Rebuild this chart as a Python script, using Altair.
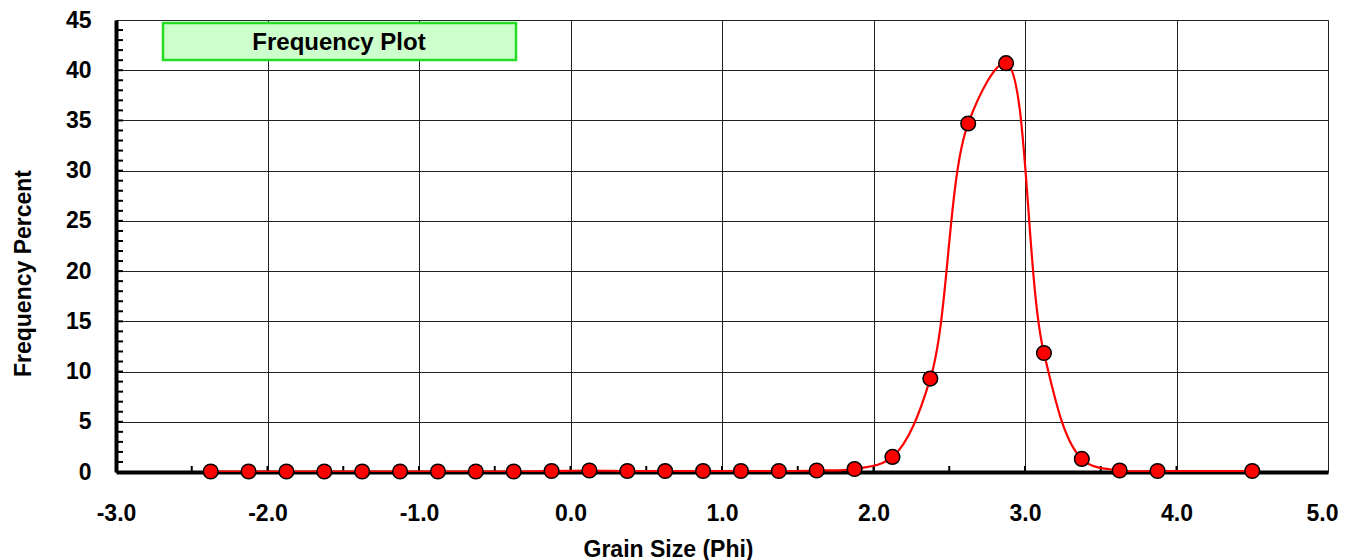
import altair as alt
import pandas as pd

# Data
phi = [-2.375, -2.125, -1.875, -1.625, -1.375, -1.125, -0.875, -0.625, -0.375, -0.125,
       0.125, 0.375, 0.625, 0.875, 1.125, 1.375, 1.625, 1.875, 2.125, 2.375,
       2.625, 2.875, 3.125, 3.375, 3.625, 3.875, 4.5]
freq = [0.05, 0.05, 0.05, 0.05, 0.05, 0.05, 0.05, 0.05, 0.05, 0.1,
        0.15, 0.1, 0.1, 0.1, 0.1, 0.1, 0.15, 0.3, 1.5, 9.3,
        34.7, 40.7, 11.85, 1.3, 0.15, 0.1, 0.1]
x_major = [-3.0, -2.0, -1.0, 0.0, 1.0, 2.0, 3.0, 4.0, 5.0]
x_minor = [-2.5, -2.0, -1.5, -1.0, -0.5, 0.0, 0.5, 1.0, 1.5, 2.0, 2.5, 3.0, 3.5, 4.0, 4.5]
y_major = [0, 5, 10, 15, 20, 25, 30, 35, 40, 45]
y_minor = list(range(1, 45))
title_text = "Frequency Plot"

df = pd.DataFrame({"phi": phi, "freq": freq})
FONT = "Liberation Sans"
FS = 23
W, H = 1212, 452

xscale = alt.Scale(domain=[-3, 5], nice=False, zero=False)
yscale = alt.Scale(domain=[0, 45], nice=False)

xaxis = alt.Axis(values=x_major,
                 labelExpr="(datum.value < 0 ? '-' : '') + format(abs(datum.value), '.1f')",
                 labelOffset={"condition": {"test": "datum.value >= 5", "value": -6}, "value": 0},
                 grid=True, gridColor="#222", gridWidth=1,
                 ticks=False, domain=True, domainColor="black", domainWidth=4,
                 labelFont=FONT, labelFontSize=FS, labelFontWeight="bold", labelColor="black",
                 labelPadding=30, title="Grain Size (Phi)", titleFont=FONT, titleFontSize=FS,
                 titleFontWeight="bold", titleColor="black", titleX=552, titleY=77,
                 titleAnchor="middle", titleBaseline="middle", labelFlush=False)
yaxis = alt.Axis(values=y_major, grid=True, gridColor="#222", gridWidth=1,
                 ticks=False, domain=True, domainColor="black", domainWidth=4,
                 labelFont=FONT, labelFontSize=FS, labelFontWeight="bold", labelColor="black",
                 labelPadding=25, title="Frequency Percent", titleFont=FONT, titleFontSize=FS,
                 titleFontWeight="bold", titleColor="black", titleX=-93, titleY=253,
                 titleAnchor="middle", titleBaseline="middle", titleAngle=-90, labelFlush=False)

base = alt.Chart(df)

line = base.mark_line(color="red", strokeWidth=2.2, interpolate="catmull-rom", clip=True).encode(
    x=alt.X("phi:Q", scale=xscale, axis=xaxis),
    y=alt.Y("freq:Q", scale=yscale, axis=yaxis),
)
pts = base.mark_point(shape="circle", filled=True, fill="#FF0000", stroke="black",
                      strokeWidth=1.5, size=215, opacity=1).encode(
    x=alt.X("phi:Q", scale=xscale),
    y=alt.Y("freq:Q", scale=yscale),
)

xminor = alt.Chart(pd.DataFrame({"v": x_minor})).mark_rule(color="black", strokeWidth=2).encode(
    x=alt.X("v:Q", scale=xscale), y=alt.value(H - 1), y2=alt.value(H - 6))
yminor = alt.Chart(pd.DataFrame({"v": y_minor})).mark_rule(color="black", strokeWidth=2).encode(
    y=alt.Y("v:Q", scale=yscale), x=alt.value(1), x2=alt.value(7))

box = alt.Chart(pd.DataFrame({"t": [title_text]})).mark_rect(
    fill="#CCFFCC", stroke="#22DD22", strokeWidth=2.5).encode(
    x=alt.value(47), x2=alt.value(400), y=alt.value(3), y2=alt.value(40))
label = alt.Chart(pd.DataFrame({"t": [title_text]})).mark_text(
    font=FONT, fontSize=24, fontWeight="bold", color="black", align="center", baseline="middle").encode(
    text="t:N", x=alt.value(223), y=alt.value(23))

chart = alt.layer(box, xminor, yminor, line, pts, label).properties(
    width=W, height=H,
    padding={"left": 108, "top": 12, "right": 10, "bottom": 88},
    autosize=alt.AutoSizeParams(type="none"),
).configure_view(stroke="black", strokeWidth=4).configure(background="white")

chart.save("out.html", embed_options={"renderer": "svg", "actions": False})
